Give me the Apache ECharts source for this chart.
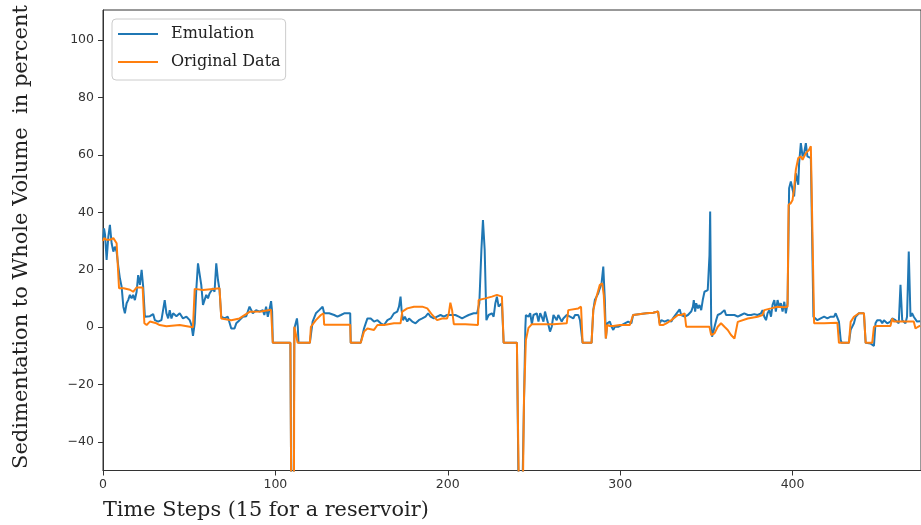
<!DOCTYPE html>
<html>
<head>
<meta charset="utf-8">
<script src="https://cdn.jsdelivr.net/npm/echarts@6/dist/echarts.min.js"></script>
<style>
  html, body { margin: 0; padding: 0; background: #fff; }
  #chart { width: 921px; height: 525px; }
</style>
</head>
<body>
<div id="chart"></div>
<script>
// tick labels
const xTicks = [0, 100, 200, 300, 400];
const yTicks = [-40, -20, 0, 20, 40, 60, 80, 100];

// [time step, percent]
const emulation = [
  [0,30],[0.6,34.4],[1.2,32.1],[2.1,23.4],[3.1,31.5],[4.0,35.6],[5.0,29.2],[6.0,26.3],[6.9,28.0],[7.9,26.3],
  [8.9,21.0],[9.8,17.0],[10.8,14.1],[11.8,7.1],[12.7,4.8],[13.7,8.3],[14.6,9.4],[15.6,11.2],[16.6,10.0],[17.5,11.2],
  [18.5,9.4],[19.5,12.3],[20.4,18.1],[21.4,14.7],[22.4,19.9],[23.3,14.1],[24.3,3.6],[25.3,3.0],[27.2,3.8],[29.1,4.5],
  [30.1,2.4],[32.0,1.9],[33.9,2.4],[35.8,9.4],[36.8,4.8],[37.8,3.0],[38.7,5.9],[39.7,3.0],[40.7,4.8],[42.6,3.8],
  [44.5,4.8],[46.4,3.0],[48.4,3.6],[50.3,2.4],[51.3,0.7],[52.2,-3.1],[53.2,1.3],[54.1,12.9],[55.1,22.2],[56.1,22.2],
  [57.0,14.7],[58.0,7.7],[58.9,9.4],[59.9,11.2],[60.9,10.0],[61.8,11.7],[63.8,13.5],[64.7,12.3],[65.7,22.2],[66.7,16.4],
  [67.6,12.9],[68.6,3.6],[70.5,3.0],[72.4,3.6],[74.4,-0.5],[76.3,-0.5],[77.3,1.3],[79.2,2.4],[81.1,3.6],[83.1,3.8],
  [85.0,7.1],[86.9,4.8],[88.8,5.9],[90.8,5.4],[92.7,5.9],[93.6,4.2],[94.6,7.1],[95.6,3.6],[96.5,5.9],[97.5,9.0],
  [98.1,5.4],[98.5,-5.5],[108.7,-5.5],[109.3,-70],[110.5,-70],[111.0,-0.5],[112.5,3.0],[113.0,0.1],[113.4,-5.5],[120.0,-5.5],
  [121.6,1.9],[123.5,4.8],[125.4,5.9],[127.4,7.1],[128.3,4.8],[129.3,5.4],[131.2,4.8],[132.2,5.4],[134.1,4.2],[136.0,3.6],
  [138.0,4.2],[139.9,4.8],[141.8,4.8],[143.4,4.8],[143.7,-5.5],[149.5,-5.5],[151.4,-0.5],[152.4,1.3],[153.4,3.0],[155.3,3.0],
  [157.2,1.9],[159.2,2.4],[161.1,1.3],[163.0,0.7],[165.0,2.4],[166.9,3.0],[168.8,4.8],[170.7,5.4],[171.7,7.1],[172.6,10.6],
  [173.2,5.9],[174.0,2.4],[175.1,3.6],[176.5,1.9],[177.5,3.0],[179.4,1.9],[181.3,1.3],[183.2,2.4],[185.2,3.0],[187.1,3.6],
  [188.6,4.8],[190.0,3.6],[191.9,3.0],[193.8,3.6],[195.8,4.2],[197.7,3.6],[199.6,4.2],[201.5,4.2],[204.4,4.2],[206.4,3.6],
  [208.3,3.0],[210.2,3.6],[212.1,4.2],[215.0,4.8],[217.0,4.8],[218.3,8.3],[219.5,26.9],[220.4,37.3],[221.4,26.9],[222.4,2.4],
  [223.7,4.2],[225.6,4.8],[226.6,3.6],[227.6,8.3],[228.5,10.6],[229.5,7.1],[230.4,7.7],[231.4,8.3],[232.4,-5.5],[240.1,-5.5],
  [241.3,-70],[242.9,-70],[245.0,0.0],[245.3,4.2],[246.8,3.6],[247.8,4.8],[248.8,1.0],[249.7,4.2],[251.6,4.8],[252.6,1.9],
  [253.6,4.8],[254.5,3.6],[255.5,1.9],[256.4,5.4],[257.4,4.8],[258.4,0.7],[259.3,-1.6],[260.3,0.1],[261.3,4.2],[262.2,3.6],
  [263.2,2.4],[264.1,4.2],[265.1,3.6],[266.1,1.9],[267.0,3.0],[269.0,4.2],[270.9,3.6],[271.9,4.2],[272.8,3.0],[273.8,4.2],
  [274.7,3.6],[275.7,4.2],[276.7,2.4],[278.2,-5.5],[283.4,-5.5],[284.4,5.9],[285.3,9.4],[286.3,10.6],[287.3,11.8],[288.2,13.5],
  [289.2,15.2],[290.2,21.1],[291.1,9.4],[291.7,-4.0],[292.5,1.3],[294.0,1.9],[295.0,0.1],[296.0,-1.0],[296.9,0.1],[297.9,0.7],
  [298.8,0.1],[300.8,0.7],[302.7,1.3],[304.6,1.9],[305.6,2.4],[306.5,1.3],[307.5,4.2],[315.2,4.8],[319.1,5.0],[322.0,5.4],
  [322.9,1.3],[323.9,2.4],[325.8,1.9],[327.7,2.4],[329.7,1.9],[330.6,3.0],[331.6,3.6],[333.5,5.4],[334.5,6.2],[335.4,4.2],
  [337.4,3.6],[339.3,4.2],[341.2,5.4],[342.2,7.1],[342.7,9.4],[343.5,5.4],[344.1,8.3],[345.1,6.5],[346.0,7.7],[347.0,5.9],
  [347.9,9.4],[348.9,12.3],[349.9,11.8],[350.8,12.9],[351.8,25.0],[352.2,40.3],[352.8,1.3],[353.3,-3.4],[354.3,-1.0],[355.7,2.4],
  [356.6,4.2],[358.5,4.8],[360.5,5.9],[361.4,4.2],[362.4,3.6],[364.3,4.2],[366.3,4.2],[368.2,3.6],[370.1,4.2],[372.0,4.8],
  [374.0,4.2],[375.9,4.2],[377.8,4.5],[379.7,4.2],[381.7,4.8],[382.6,5.9],[383.6,3.6],[384.6,2.4],[385.5,4.8],[386.5,5.9],
  [387.5,3.6],[388.4,7.7],[389.4,9.4],[390.3,5.4],[391.3,9.4],[392.3,7.1],[393.2,8.3],[394.2,5.4],[395.2,8.8],[396.1,4.8],
  [397.1,8.3],[398.0,48.4],[399.0,50.7],[400.0,51.3],[400.9,45.5],[401.9,53.6],[403.3,49.6],[403.8,57.1],[404.8,64.1],[405.8,59.5],
  [406.7,60.6],[407.7,64.1],[408.6,59.5],[409.6,60.0],[410.6,58.9],[412.1,3.6],[414.4,2.4],[416.3,3.0],[418.3,3.6],[420.2,3.0],
  [422.1,3.6],[424.1,3.6],[425.0,4.8],[426.0,5.4],[426.9,1.9],[427.9,-4.5],[428.5,-5.5],[432.7,-5.5],[433.7,-1.0],[435.6,1.3],
  [436.6,3.6],[437.5,4.2],[438.5,4.8],[441.4,4.8],[442.4,-5.5],[445.2,-5.7],[447.2,-6.6],[448.1,1.3],[449.1,2.4],[450.1,1.9],
  [451.0,2.4],[452.0,1.3],[453.0,2.4],[454.9,1.3],[456.8,1.9],[457.8,3.0],[458.7,3.0],[459.7,2.4],[460.7,1.9],[461.6,1.3],
  [462.6,14.7],[463.6,2.4],[464.5,1.9],[465.5,1.3],[466.4,3.6],[467.4,26.3],[468.4,3.6],[469.3,4.8],[470.3,3.6],[471.3,3.0],
  [472.2,1.9],[474.0,2.0]
];

const originalData = [
  [0,30.0],[0.6,31.0],[2.0,30.4],[4.0,30.4],[6.0,31.0],[7.9,29.2],[9.3,13.5],[12.0,13.5],[15.6,13.0],[17.5,12.3],
  [19.5,13.8],[23.0,13.8],[24.0,1.3],[25.3,0.7],[27.2,1.9],[31.0,1.3],[32.9,0.7],[36.8,0.3],[44.5,0.7],[50.3,0.1],
  [52.2,-0.1],[53.2,13.3],[58.0,12.9],[63.8,13.3],[67.6,13.5],[68.6,3.0],[74.4,2.4],[79.2,3.0],[85.0,5.3],[91.7,5.4],
  [97.5,6.0],[98.5,-5.5],[108.7,-5.5],[109.3,-70],[110.7,-70],[111.0,0.1],[111.9,0.7],[112.9,-5.5],[120.0,-5.5],[120.6,0.1],
  [123.5,2.4],[126.4,4.2],[127.9,4.8],[128.3,0.8],[143.4,0.8],[143.7,-5.5],[149.5,-5.5],[151.4,-1.6],[153.4,-0.5],[157.2,-1.0],
  [159.2,0.7],[163.0,0.7],[168.8,1.3],[172.6,1.3],[173.6,5.4],[176.5,6.5],[180.4,7.1],[185.2,7.1],[188.1,6.5],[191.0,4.2],
  [193.8,2.4],[196.7,3.0],[199.6,3.0],[200.6,4.8],[201.5,8.5],[202.5,5.9],[203.5,1.0],[210.2,1.0],[217.5,0.7],[217.9,9.4],
  [221.8,10.0],[225.6,10.6],[228.5,11.2],[231.4,10.6],[232.4,-5.5],[240.1,-5.5],[241.5,-70],[243.3,-70],[244.2,-25],[245.3,-4.5],
  [246.8,-0.3],[248.8,1.0],[261.3,1.0],[262.2,1.3],[269.0,1.3],[269.9,5.9],[275.7,6.5],[277.3,7.1],[278.2,-5.5],[283.4,-5.5],
  [284.4,5.9],[286.3,10.6],[288.2,14.7],[289.6,15.2],[290.5,11.0],[291.7,-4.0],[292.5,0.7],[294.0,0.35],[296.0,0.35],[299.8,0.7],
  [305.6,0.7],[307.5,4.2],[315.2,4.8],[319.1,5.0],[322.0,5.4],[322.9,0.7],[324.8,0.7],[326.8,1.3],[329.7,2.4],[333.5,4.2],
  [335.4,4.2],[337.4,4.8],[338.3,0.1],[351.8,0.1],[352.8,-2.8],[353.7,-3.4],[354.7,-2.2],[356.6,0.1],[358.5,1.3],[360.5,0.1],
  [362.4,-1.0],[364.3,-2.8],[366.3,-4.0],[367.2,-4.5],[368.2,1.8],[369.1,2.4],[374.0,3.0],[379.7,3.6],[382.6,4.2],[383.6,5.9],
  [387.5,6.5],[391.3,7.1],[395.2,6.9],[397.1,7.1],[397.7,42.6],[399.0,43.2],[400.0,44.3],[400.9,48.4],[401.9,54.8],[403.3,58.9],
  [404.8,59.5],[405.8,58.3],[407.7,60.6],[409.6,61.8],[410.6,63.0],[411.5,62.7],[412.5,1.3],[418.3,1.3],[426.0,1.5],[426.9,-5.5],
  [432.7,-5.5],[433.7,1.8],[435.6,3.6],[438.5,4.8],[441.4,4.8],[442.4,-5.5],[446.2,-5.5],[447.2,0.1],[449.1,0.4],[456.8,0.4],
  [457.8,3.0],[458.7,1.9],[462.6,1.9],[468.4,1.9],[470.3,1.9],[471.3,-0.5],[472.8,0.1],[474.0,0.5]
];

const chart = echarts.init(document.getElementById('chart'), null, { renderer: 'canvas' });

const axisColor = '#333';
const labelFont = 'DejaVu Sans';
const titleFont = 'DejaVu Serif';

chart.setOption({
  animation: false,
  backgroundColor: '#fff',
  grid: {
    left: 103, right: -3, top: 10, bottom: 54.5,
    show: true, borderColor: axisColor, borderWidth: 1
  },
  legend: {
    data: ['Emulation', 'Original Data'],
    orient: 'vertical',
    left: 112, top: 19,
    icon: 'rect',
    itemWidth: 40, itemHeight: 2,
    itemGap: 8,
    padding: [5, 5, 8, 6],
    backgroundColor: 'rgba(255,255,255,0.85)',
    borderColor: '#cccccc', borderWidth: 1, borderRadius: 4,
    textStyle: { fontFamily: titleFont, fontSize: 16, color: '#222', lineHeight: 20, padding: [0, 0, 0, 8] }
  },
  xAxis: {
    type: 'value',
    min: 0, max: 474.5,
    axisLine: { show: true, onZero: false, lineStyle: { color: axisColor, width: 1 } },
    axisTick: { show: true, length: 5, customValues: xTicks, lineStyle: { color: axisColor } },
    axisLabel: { customValues: xTicks, margin: 8, fontFamily: labelFont, fontSize: 12.5, color: '#333' },
    splitLine: { show: false }
  },
  yAxis: {
    type: 'value',
    min: -50, max: 110.5,
    axisLine: { show: true, onZero: false, lineStyle: { color: axisColor, width: 1 } },
    axisTick: { show: true, length: 5, customValues: yTicks, lineStyle: { color: axisColor } },
    axisLabel: {
      customValues: yTicks, margin: 9, fontFamily: labelFont, fontSize: 12.5, color: '#333',
      formatter: v => String(v).replace('-', '\u2212')
    },
    splitLine: { show: false }
  },
  graphic: [
    {
      type: 'text', x: 22, y: 237, rotation: Math.PI / 2,
      style: {
        text: 'Sedimentation to Whole Volume  in percent',
        font: '21px "DejaVu Serif"', fill: '#222',
        align: 'center', verticalAlign: 'middle'
      }
    },
    {
      type: 'text', x: 103, y: 511,
      style: {
        text: 'Time Steps (15 for a reservoir)',
        font: '20.8px "DejaVu Serif"', fill: '#222',
        align: 'left', verticalAlign: 'middle'
      }
    }
  ],
  series: [
    {
      name: 'Emulation', type: 'line', data: emulation,
      showSymbol: false, symbol: 'none', clip: true,
      itemStyle: { color: '#1f77b4' },
      lineStyle: { color: '#1f77b4', width: 2 }
    },
    {
      name: 'Original Data', type: 'line', data: originalData,
      showSymbol: false, symbol: 'none', clip: true,
      itemStyle: { color: '#ff7f0e' },
      lineStyle: { color: '#ff7f0e', width: 2 }
    }
  ]
});

window.onresize = function () { chart.resize(); };
</script>
</body>
</html>
